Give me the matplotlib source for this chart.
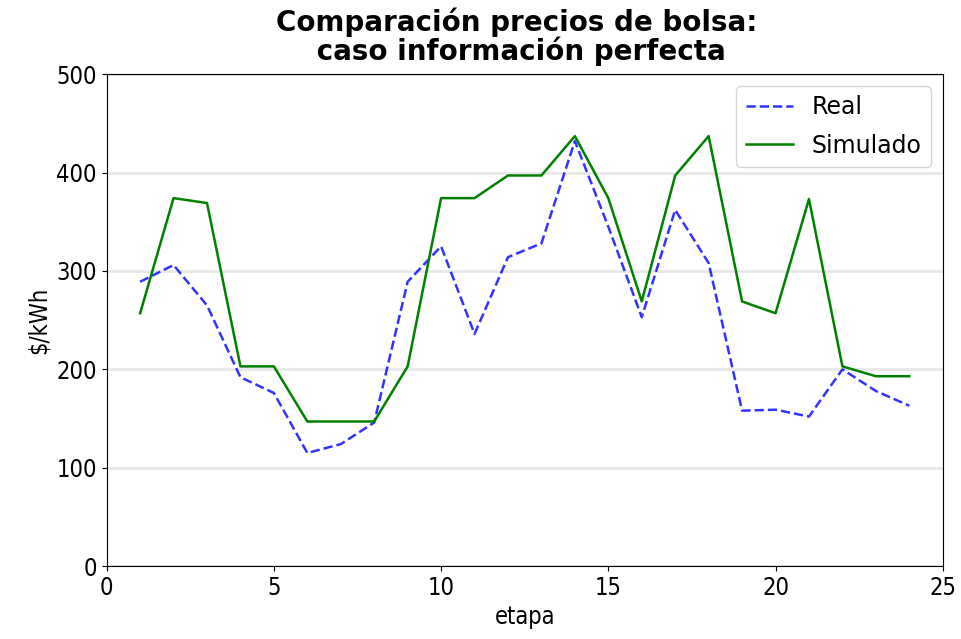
import matplotlib.pyplot as plt

etapas = list(range(1, 25))

precio_real = [289, 306, 265, 192, 176, 115, 124, 146, 289, 325, 236, 314,
               328, 432, 345, 253, 362, 308, 158, 159, 152, 200, 178, 163]

precio_simulado = [257, 374, 369, 203, 203, 147, 147, 147, 203, 374, 374, 397,
                   397, 437, 374, 269, 397, 437, 269, 257, 373, 203, 193, 193]

plt.rcParams["font.family"] = ["DejaVu Sans"]
plt.rcParams["font.stretch"] = "condensed"

fig, ax = plt.subplots(figsize=(9.61, 6.39), dpi=100)
fig.subplots_adjust(left=0.111, right=0.981, top=0.884, bottom=0.114)

ax.plot(etapas, precio_real, "b--", linewidth=1.8, alpha=0.8, label="Real")
ax.plot(etapas, precio_simulado, color="green", linewidth=1.8, label="Simulado")

ax.set_xlim(0, 25)
ax.set_ylim(0, 500)
ax.yaxis.grid(True, color="#e8e8e8", linewidth=2)
ax.set_axisbelow(True)

ax.set_title("Comparación precios de bolsa:\n caso información perfecta",
             fontsize=20, fontweight="bold", fontstretch="normal",
             linespacing=1.0, pad=10, x=0.49)
ax.set_xlabel("etapa", fontsize=17)
ax.set_ylabel("$/kWh", fontsize=17)
ax.tick_params(labelsize=17)
ax.legend(prop={"family": "DejaVu Sans", "stretch": "normal", "size": 17},
          loc="upper right", labelspacing=0.6)

fig.savefig("out.png", dpi=100)
